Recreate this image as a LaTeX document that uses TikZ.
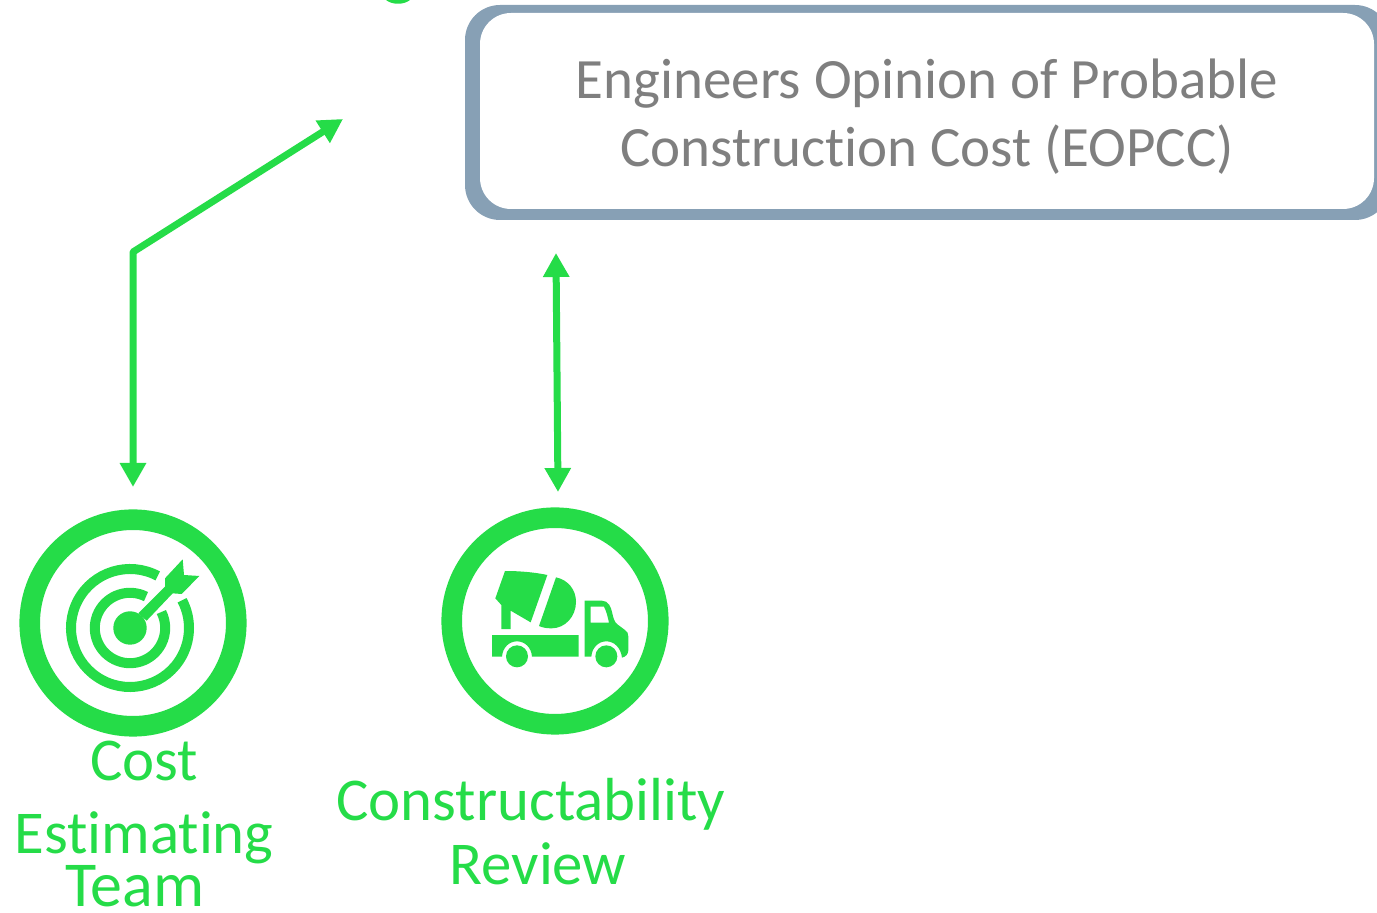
\documentclass[tikz,border=0pt]{standalone}
\usepackage{fontspec}
\setmainfont[Ligatures=NoCommon,Contextuals=NoAlternate]{Carlito}
\usetikzlibrary{arrows.meta}
\definecolor{grn}{HTML}{25DC48}
\definecolor{frame}{HTML}{87A0B5}
\definecolor{greytext}{HTML}{7F7F7F}
\tikzset{
  ring/.style={circle,draw=grn,line width=10.3pt,minimum size=103.3pt,inner sep=0pt,fill=white},
  glabel/.style={text=grn,font=\fontsize{30.4pt}{36pt}\selectfont,inner sep=0pt,anchor=base},
  tlabel/.style={text=greytext,font=\fontsize{28.5pt}{34pt}\selectfont,inner sep=0pt,anchor=base},
  conn/.style={draw=grn,line width=3.5pt,line join=round,{Triangle[length=12pt,width=12.5pt]}-{Triangle[length=12pt,width=12.5pt]}},
  icon/.style={fill=grn,draw=none},
  arcline/.style={draw=grn,line width=5pt,line cap=butt},
  zoomcoords/.style={x=0.16667pt,y=-0.16667pt}
}
\begin{document}
\begin{tikzpicture}[x=0.5pt,y=-0.5pt]
\useasboundingbox (0,0) rectangle (1377,913);
\clip (0,0) rectangle (1377,913);

% box: the frame is thicker on some sides than on others
\fill[frame,rounded corners=17.5pt] (465,5) rectangle (1390,220);
\fill[white,rounded corners=15.5pt] (480,13) rectangle (1374,209);
\node[tlabel] (t1) at (927,99) {Engineers Opinion of Probable};
\node[tlabel] (t2) at (927,167) {Construction Cost (EOPCC)};

% fragment at the top edge
\fill[grn] (386,0) .. controls (392,5) and (404,5) .. (410,0) -- cycle;

% circles
\node[ring] (target) at (133,623) {};
\node[ring] (truck) at (555,621) {};

% connectors
\coordinate (c1a) at (133,487);
\coordinate (c1b) at (133,252);
\coordinate (c1c) at (343,119);
\coordinate (c2a) at (558,492);
\coordinate (c2b) at (556,253);
\draw[conn] (c1a) -- (c1b) -- (c1c);
\draw[conn] (c2a) -- (c2b);

% target icon
\coordinate (tc) at (130,628);
\fill[icon] (tc) circle (8.35pt);
\draw[arcline] (tc) ++(62:29.5pt) arc[start angle=62,end angle=388,radius=29.5pt];
\draw[arcline] (tc) ++(63:17.6pt) arc[start angle=63,end angle=387,radius=17.6pt];
\begin{scope}[shift={(0,490)},zoomcoords]
  \fill[icon] (415,370) -- (495,290) -- (495,265) -- (548,208) -- (552,255) -- (598,258)
     -- (545,312) -- (518,310) -- (440,392) -- cycle;
\end{scope}

% truck icon
\begin{scope}[shift={(430,490)},zoomcoords]
  \fill[icon] (225,243) .. controls (270,243) and (315,247) .. (352,255) -- (302,397) -- (242,362)
     -- (242,417) -- (214,417) -- (214,345) -- (196,325) -- cycle;
  \fill[icon] (378,262) .. controls (415,270) and (438,300) .. (438,335)
     .. controls (438,380) and (405,415) .. (365,415) .. controls (350,415) and (338,413) .. (327,408) -- cycle;
  \fill[icon] (186,435) -- (446,435) -- (446,500) -- (306,500)
     .. controls (304,472) and (284,454) .. (261,454) .. controls (238,454) and (218,472) .. (216,500)
     -- (186,500) -- cycle;
  \fill[icon] (261,499) circle (5.5pt);
  \fill[icon,even odd rule] (464,332) -- (515,332) .. controls (535,332) and (543,350) .. (547,370)
     .. controls (550,385) and (553,395) .. (562,403) -- (585,420) .. controls (592,425) and (595,430) .. (595,440)
     -- (595,480) .. controls (595,492) and (588,500) .. (576,503)
     .. controls (572,472) and (552,454) .. (529,454) .. controls (506,454) and (486,472) .. (484,500)
     -- (464,500) -- cycle
     (482,350) -- (522,350) .. controls (530,365) and (534,385) .. (537,398) -- (482,398) -- cycle;
  \fill[icon] (529,499) circle (5.5pt);
\end{scope}

% labels
\node[glabel] (l1) at (144,781) {Cost};
\node[glabel] (l2) at (144,854) {Estimating};
\node[glabel,font=\fontsize{32pt}{36pt}\selectfont] (l3) at (135,907) {Team};
\node[glabel] (l4) at (531,821) {Constructability};
\node[glabel] (l5) at (538,885) {Review};
\end{tikzpicture}
\end{document}
